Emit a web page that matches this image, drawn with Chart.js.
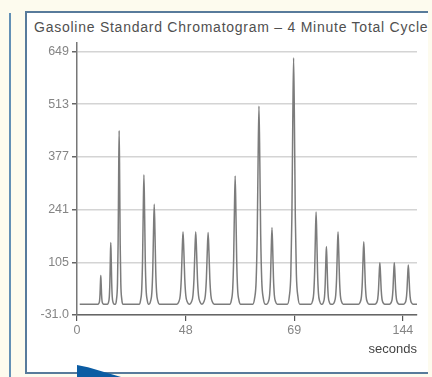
<!DOCTYPE html>
<html>
<head>
<meta charset="utf-8">
<script src="https://cdn.jsdelivr.net/npm/chart.js@4.4.0/dist/chart.umd.min.js"></script>
<style>
  html, body { margin: 0; padding: 0; }
  body { width: 432px; height: 377px; background: #fdfbee; position: relative; overflow: hidden; font-family: "Liberation Sans", Arial, sans-serif; }
  #leftline { position: absolute; left: 9px; top: 13px; width: 2px; height: 364px; background: #6390b5; }
  #box { position: absolute; left: 25px; top: 11px; width: 401px; height: 359px; background: #ffffff;
         border-left: 2px solid #587b9b; border-top: 2px solid #587b9b; border-bottom: 2px solid #587b9b; }
  #title { position: absolute; left: 34px; top: 19px; font-size: 14px; letter-spacing: 0.75px; color: #505050; white-space: nowrap; }
  #tri { position: absolute; left: 77px; top: 365px; width: 44px; height: 12px; background: #0b5ca3;
         clip-path: polygon(0 0, 25% 18%, 100% 100%, 0 100%); }
  #c { position: absolute; left: 0; top: 0; }
</style>
</head>
<body>
<div id="leftline"></div>
<div id="box"></div>
<div id="title">Gasoline Standard Chromatogram – 4 Minute Total Cycle</div>
<div id="tri"></div>
<canvas id="c" width="432" height="377"></canvas>
<script>
// x tick labels (evenly spaced on the axis, as in the original)
const xTickLabels = ["0", "48", "69", "144"];
// y ticks
const yTicks = [-31, 105, 241, 377, 513, 649];
// peak retention positions (in x-axis tick-interval units)
const peakPos = [0.219, 0.311, 0.388, 0.616, 0.711, 0.976, 1.093, 1.207, 1.456, 1.675, 1.795, 1.994, 2.201, 2.296, 2.403, 2.640, 2.788, 2.921, 3.050];
// peak heights
const peakHeight = [71, 156, 445, 331, 255, 184, 184, 182, 328, 508, 195, 633, 235, 146, 184, 158, 104, 104, 98];
// peak half base widths (same units as position)
const peakHalfWidth = [0.025, 0.03, 0.034, 0.044, 0.048, 0.057, 0.057, 0.057, 0.05, 0.057, 0.048, 0.057, 0.048, 0.04, 0.048, 0.048, 0.044, 0.044, 0.044];
const baseline = -3;
const xStart = 0.025, xEnd = 3.13;

// peak outline profile: relative offset from apex, relative height
const profOffset = [-1, -0.7, -0.45, -0.28, -0.14, 0, 0.14, 0.28, 0.45, 0.7, 1];
const profHeight = [0, 0.03, 0.12, 0.35, 0.72, 1, 0.72, 0.35, 0.12, 0.03, 0];

const points = [{x: xStart, y: baseline}];
peakPos.forEach((p, i) => {
  profOffset.forEach((o, k) => {
    points.push({x: p + o * peakHalfWidth[i], y: baseline + profHeight[k] * (peakHeight[i] - baseline)});
  });
});
points.push({x: xEnd, y: baseline});

const tickFont = {family: "'Liberation Sans', Arial, sans-serif", size: 12.5};

new Chart(document.getElementById('c'), {
  type: 'line',
  data: {
    datasets: [{
      data: points,
      borderColor: '#7c7c7c',
      borderWidth: 1.5,
      pointRadius: 0,
      cubicInterpolationMode: 'monotone',
      fill: false
    }]
  },
  options: {
    responsive: false,
    animation: false,
    events: [],
    layout: { padding: { left: 0, top: 43, right: 15, bottom: 16 } },
    plugins: { legend: { display: false }, title: { display: false }, tooltip: { enabled: false } },
    scales: {
      x: {
        type: 'linear',
        min: 0,
        max: 3.13,
        afterBuildTicks: (s) => { s.ticks = xTickLabels.map((_, i) => ({value: i})); },
        afterFit: (s) => { s.height = 46; },
        ticks: {
          color: '#858585',
          font: tickFont,
          padding: 2,
          maxRotation: 0,
          autoSkip: false,
          callback: (v, i) => xTickLabels[i]
        },
        grid: { drawOnChartArea: false, drawTicks: true, tickLength: 6, tickColor: '#555', lineWidth: 1.2 },
        border: { color: '#666', width: 1.5 },
        title: {
          display: true,
          text: 'seconds',
          align: 'end',
          color: '#444',
          font: {family: "'Liberation Sans', Arial, sans-serif", size: 13},
          padding: {top: 2, bottom: 4}
        }
      },
      y: {
        min: -31,
        max: 671,
        afterBuildTicks: (s) => { s.ticks = yTicks.map(v => ({value: v})); },
        afterFit: (s) => { s.width = 77; },
        ticks: {
          color: '#858585',
          font: tickFont,
          padding: 3,
          callback: (v) => v === -31 ? '-31.0' : String(v)
        },
        grid: { color: '#d4d4d4', lineWidth: 1.5, tickLength: 5, tickColor: '#666' },
        border: { color: '#777', width: 1.5 }
      }
    }
  }
});
</script>
</body>
</html>
